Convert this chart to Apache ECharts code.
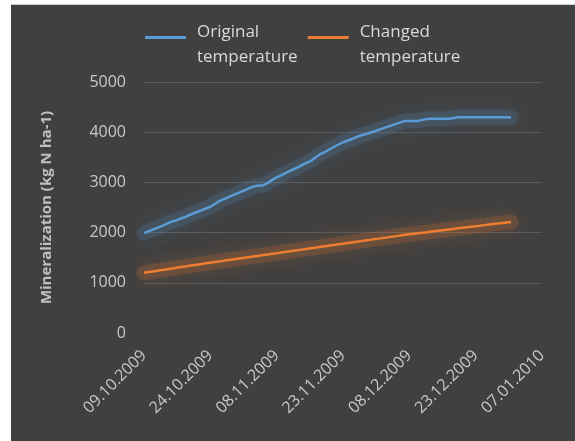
<!DOCTYPE html>
<html>
<head>
<meta charset="utf-8">
<script src="https://cdn.jsdelivr.net/npm/echarts@6/dist/echarts.min.js"></script>
<style>
  html, body { margin: 0; padding: 0; background: #ffffff; width: 575px; height: 441px; overflow: hidden; }
  #frame { position: absolute; left: 11px; top: 4px; width: 564px; height: 437px; background: #404040; border-top: 1px solid #d0d0d0; }
  #chart { width: 564px; height: 437px; }
</style>
</head>
<body>
<div id="frame"><div id="chart"></div></div>
<script>
// Daily cumulative mineralization (kg N ha-1), from 09.10.2009 (day 0) to 31.12.2009 (day 83)
const originalTemp = [
  1990, 2025, 2060, 2095, 2130, 2170, 2210, 2235, 2270, 2300,
  2340, 2375, 2410, 2445, 2480, 2515, 2570, 2625, 2665, 2700,
  2740, 2775, 2815, 2850, 2890, 2925, 2940, 2945, 2990, 3050,
  3100, 3140, 3185, 3230, 3270, 3310, 3360, 3400, 3445, 3510,
  3570, 3610, 3660, 3710, 3755, 3800, 3830, 3865, 3900, 3935,
  3960, 3985, 4015, 4045, 4075, 4105, 4135, 4165, 4195, 4225,
  4225, 4225, 4225, 4245, 4265, 4270, 4270, 4270, 4270, 4270,
  4285, 4300, 4300, 4300, 4300, 4300, 4300, 4300, 4300, 4300,
  4300, 4300, 4300, 4295
];
const changedTemp = [
  1200, 1213, 1227, 1240, 1254, 1267, 1281, 1294, 1308, 1321,
  1334, 1348, 1361, 1375, 1388, 1401, 1414, 1427, 1439, 1452,
  1464, 1477, 1490, 1502, 1515, 1527, 1540, 1553, 1565, 1578,
  1590, 1603, 1616, 1628, 1641, 1654, 1666, 1679, 1692, 1704,
  1717, 1730, 1742, 1755, 1768, 1780, 1793, 1805, 1818, 1830,
  1843, 1855, 1868, 1880, 1893, 1905, 1918, 1930, 1943, 1955,
  1966, 1977, 1988, 1999, 2009, 2020, 2031, 2042, 2052, 2063,
  2074, 2085, 2095, 2106, 2117, 2128, 2138, 2149, 2160, 2171,
  2181, 2192, 2203, 2212
];
// Date labels every 15 days along the x axis
const dateTicks = ['09.10.2009', '24.10.2009', '08.11.2009', '23.11.2009', '08.12.2009', '23.12.2009', '07.01.2010'];
const seriesNames = ['Original\ntemperature', 'Changed\ntemperature'];
const seriesColors = ['#5b9bd5', '#ed7d31'];
const glowColors = ['rgba(91,155,213,0.16)', 'rgba(237,125,49,0.18)'];
const glowShadow = ['rgba(91,155,213,0.9)', 'rgba(237,125,49,0.9)'];

const font = '"Open Sans", Lato, sans-serif';
const toPoints = arr => arr.map((v, i) => [i, v]);

// Legend swatch: a short bar sitting in the upper part of the icon box
const legendIcon = 'path://M0,0H41V3H0Z M0,17.9H0.05V18H0Z';

// Soft halo drawn underneath each line
function glowSeries(data, idx) {
  return {
    type: 'line',
    data: toPoints(data),
    showSymbol: false,
    silent: true,
    z: 1,
    lineStyle: { color: glowColors[idx], width: 15, cap: 'round', join: 'round', shadowColor: glowShadow[idx], shadowBlur: 18 },
    tooltip: { show: false }
  };
}

function mainSeries(data, idx) {
  return {
    name: seriesNames[idx],
    type: 'line',
    data: toPoints(data),
    showSymbol: false,
    z: 3,
    itemStyle: { color: seriesColors[idx] },
    lineStyle: { color: seriesColors[idx], width: 2.5 }
  };
}

const chart = echarts.init(document.getElementById('chart'), null, { renderer: 'canvas' });
chart.setOption({
  backgroundColor: '#404040',
  animation: false,
  textStyle: { fontFamily: font },
  legend: {
    top: 15,
    left: 134,
    padding: 0,
    itemGap: 10,
    itemWidth: 41,
    itemHeight: 18,
    icon: legendIcon,
    textStyle: { color: '#d9d9d9', fontSize: 17, fontFamily: font, lineHeight: 25, padding: [0, 0, 0, 6] },
    data: seriesNames
  },
  grid: { left: 133, right: 33, top: 77, bottom: 109, containLabel: false },
  xAxis: {
    type: 'value',
    min: 0,
    max: 90,
    interval: 15,
    axisLine: { show: false },
    axisTick: { show: false },
    splitLine: { show: false },
    axisLabel: {
      color: '#c8c8c8',
      fontSize: 16,
      fontFamily: font,
      rotate: 45,
      margin: 20,
      formatter: v => dateTicks[Math.round(v / 15)] || ''
    }
  },
  yAxis: {
    type: 'value',
    min: 0,
    max: 5000,
    interval: 1000,
    name: 'Mineralization (kg N ha-1)',
    nameLocation: 'middle',
    nameGap: 90,
    nameTextStyle: { color: '#bfbfbf', fontSize: 15, fontWeight: 'bold', fontFamily: font },
    axisLine: { show: false },
    axisTick: { show: false },
    axisLabel: { color: '#c8c8c8', fontSize: 16, fontFamily: font, margin: 18, formatter: v => String(v) },
    splitLine: { show: true, showMinLine: false, lineStyle: { color: '#5a5a5a', width: 1 } }
  },
  series: [
    glowSeries(originalTemp, 0),
    glowSeries(changedTemp, 1),
    mainSeries(originalTemp, 0),
    mainSeries(changedTemp, 1)
  ]
});
</script>
</body>
</html>
